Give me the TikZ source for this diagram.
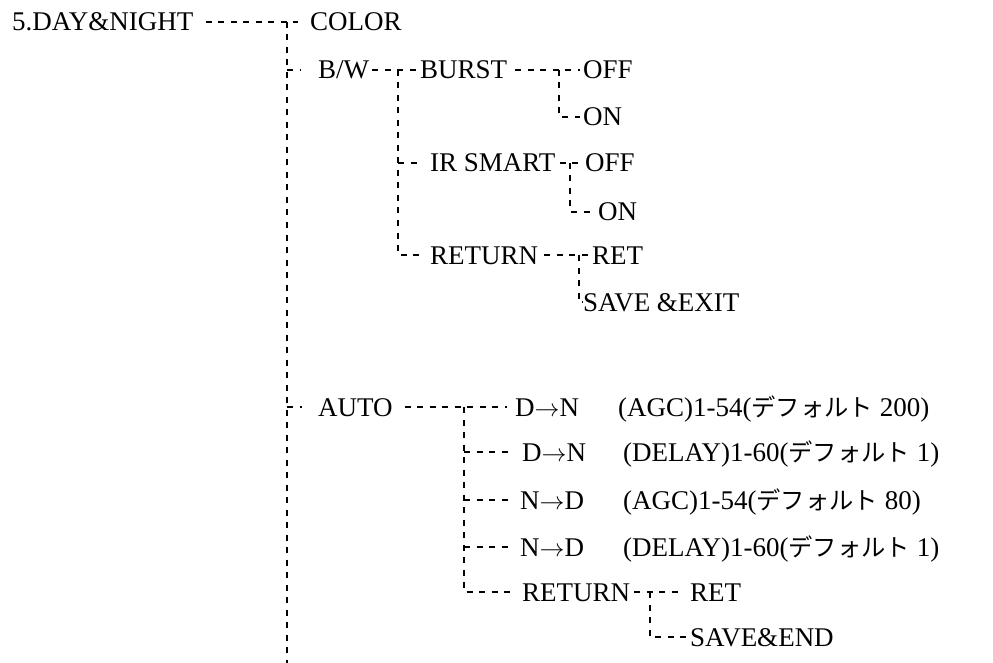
\documentclass[tikz,border=0pt]{standalone}
\usepackage{fontspec}
\setmainfont{Liberation Serif}
\newfontfamily\jp[Scale=0.9]{Noto Sans CJK JP}
\newcommand{\ar}{\ensuremath{\rightarrow}}
\begin{document}
\begin{tikzpicture}[x=1pt,y=-1pt,
  tx/.style={anchor=west, inner sep=0pt, text height=18pt, text depth=0pt, font=\fontsize{27}{32}\selectfont},
  dl/.style={dash pattern=on 6pt off 6.5pt, line width=1.5pt}]
\useasboundingbox (0,0) rectangle (993,663);
% nodes
\node[tx] (day) at (12,22) {5.DAY\&NIGHT};
\node[tx] (color) at (310,22) {COLOR};
\node[tx] (bw) at (318,70) {B/W};
\node[tx] (burst) at (420,70) {BURST};
\node[tx] (off1) at (583,70) {OFF};
\node[tx] (on1) at (583,117) {ON};
\node[tx] (ir) at (430,163) {IR SMART};
\node[tx] (off2) at (585,163) {OFF};
\node[tx] (on2) at (598,212) {ON};
\node[tx] (ret1) at (430,255) {RETURN};
\node[tx] (retA) at (592,255) {RET};
\node[tx] (save1) at (583,302) {SAVE \&EXIT};
\node[tx] (auto) at (318,407) {AUTO};
\node[tx] (a1) at (515,407) {D\ar N};
\node[tx] (a1v) at (618,407) {(AGC)1-54({\jp デフォルト} 200)};
\node[tx] (a2) at (522,452) {D\ar N};
\node[tx] (a2v) at (623,452) {(DELAY)1-60({\jp デフォルト} 1)};
\node[tx] (a3) at (520,500) {N\ar D};
\node[tx] (a3v) at (623,500) {(AGC)1-54({\jp デフォルト} 80)};
\node[tx] (a4) at (520,547) {N\ar D};
\node[tx] (a4v) at (623,547) {(DELAY)1-60({\jp デフォルト} 1)};
\node[tx] (ret2) at (522,592) {RETURN};
\node[tx] (retB) at (690,592) {RET};
\node[tx] (save2) at (690,637) {SAVE\&END};
% junctions
\coordinate (jA) at (287,22);
\coordinate (jBot) at (287,663);
\coordinate (jBW) at (287,70);
\coordinate (jAU) at (287,407);
\coordinate (kA) at (398,70);
\coordinate (kIR) at (398,163);
\coordinate (kRT) at (398,255);
\coordinate (mA) at (559,70);
\coordinate (mB) at (559,117);
\coordinate (nA) at (570,163);
\coordinate (nB) at (570,212);
\coordinate (pA) at (579,255);
\coordinate (pB) at (579,302);
\coordinate (qA) at (464,407);
\coordinate (q2) at (464,452);
\coordinate (q3) at (464,500);
\coordinate (q4) at (464,547);
\coordinate (q5) at (464,592);
\coordinate (rA) at (650,592);
\coordinate (rB) at (650,637);
% connectors
\draw[dl] ([xshift=12pt]day.east) -- (jA) -- ([xshift=-12pt]color.west);
\draw[dl] (jA) -- (jBot);
\draw[dl] (jBW) -- ([xshift=-18pt]bw.west);
\draw[dl] (jAU) -- ([xshift=-16pt]auto.west);
\draw[dl] ([xshift=3pt]bw.east) -- (kA) -- ([xshift=-3pt]burst.west);
\draw[dl] (kA) -- (kRT) -- ([xshift=-10pt]ret1.west);
\draw[dl] (kIR) -- ([xshift=-10pt]ir.west);
\draw[dl] ([xshift=8pt]burst.east) -- (mA) -- ([xshift=-3pt]off1.west);
\draw[dl] (mA) -- (mB) -- ([xshift=-3pt]on1.west);
\draw[dl] ([xshift=4pt]ir.east) -- (nA) -- ([xshift=-3pt]off2.west);
\draw[dl] (nA) -- (nB) -- ([xshift=-6pt]on2.west);
\draw[dl] ([xshift=6pt]ret1.east) -- (pA) -- ([xshift=-2pt]retA.west);
\draw[dl] (pA) -- (pB) -- (save1.west);
\draw[dl] ([xshift=12pt]auto.east) -- (qA) -- ([xshift=-8pt]a1.west);
\draw[dl] (qA) -- (q5) -- ([xshift=-12pt]ret2.west);
\draw[dl] (q2) -- ([xshift=-12pt]a2.west);
\draw[dl] (q3) -- ([xshift=-12pt]a3.west);
\draw[dl] (q4) -- ([xshift=-12pt]a4.west);
\draw[dl] ([xshift=4pt]ret2.east) -- (rA) -- ([xshift=-12pt]retB.west);
\draw[dl] (rA) -- (rB) -- ([xshift=-4pt]save2.west);
\end{tikzpicture}
\end{document}
